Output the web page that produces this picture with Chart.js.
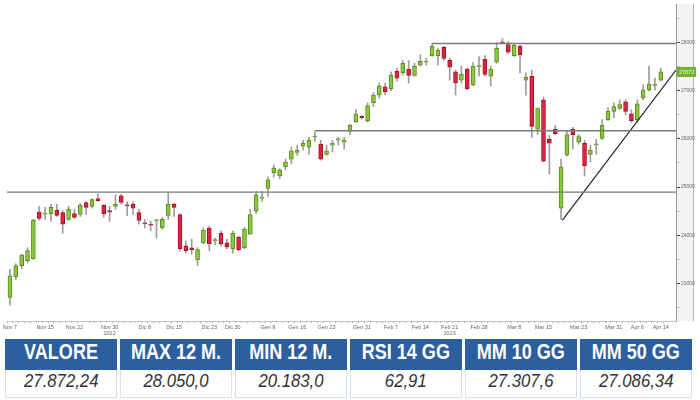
<!DOCTYPE html>
<html>
<head>
<meta charset="utf-8">
<script src="https://cdn.jsdelivr.net/npm/chart.js@4.4.1/dist/chart.umd.min.js"></script>
<style>
html, body { margin: 0; padding: 0; background: #fff; }
#wrap { position: relative; width: 700px; height: 336px; }
#tbl { display: flex; gap: 3px; margin: 3px 0 0 5px; width: 690px; }
.col { width: 112px; }
.hd { background: #2d5e9f; color: #fff; height: 31px; line-height: 31px; text-align: center; white-space: nowrap;
      font: bold 22px "Liberation Sans", Arial, sans-serif; }
.hd span { display: inline-block; transform: scaleX(0.82); }
.vl { height: 27px; line-height: 27px; text-align: center; color: #333; border: 1px solid #d6e1ec; border-top: none;
      white-space: nowrap; font: italic 19px "Liberation Sans", Arial, sans-serif; }
.vl span { display: inline-block; transform: scaleX(0.88); }
</style>
</head>
<body>
<div id="wrap"><canvas id="chart" width="700" height="336"></canvas></div>
<div id="tbl"></div>
<script>
// trading days shown on the x axis
var dates = [
  'Nov 7','Nov 8','Nov 9','Nov 10','Nov 11','Nov 14','Nov 15','Nov 16','Nov 17','Nov 18',
  'Nov 21','Nov 22','Nov 23','Nov 24','Nov 25','Nov 28','Nov 29','Nov 30',
  'Dic 1','Dic 2','Dic 5','Dic 6','Dic 7','Dic 8','Dic 9','Dic 12','Dic 13','Dic 14','Dic 15','Dic 16',
  'Dic 19','Dic 20','Dic 21','Dic 22','Dic 23','Dic 27','Dic 28','Dic 29','Dic 30',
  'Gen 2','Gen 3','Gen 4','Gen 5','Gen 6','Gen 9','Gen 10','Gen 11','Gen 12','Gen 13',
  'Gen 16','Gen 17','Gen 18','Gen 19','Gen 20','Gen 23','Gen 24','Gen 25','Gen 26','Gen 27','Gen 30','Gen 31',
  'Feb 1','Feb 2','Feb 3','Feb 6','Feb 7','Feb 8','Feb 9','Feb 10','Feb 13','Feb 14','Feb 15','Feb 16','Feb 17',
  'Feb 20','Feb 21','Feb 22','Feb 23','Feb 24','Feb 27','Feb 28',
  'Mar 1','Mar 2','Mar 3','Mar 6','Mar 7','Mar 8','Mar 9','Mar 10','Mar 13','Mar 14','Mar 15','Mar 16','Mar 17',
  'Mar 20','Mar 21','Mar 22','Mar 23','Mar 24','Mar 27','Mar 28','Mar 29','Mar 30','Mar 31',
  'Apr 3','Apr 4','Apr 5','Apr 6','Apr 11','Apr 12','Apr 13','Apr 14'
];
var opens = [
  22710,23140,23370,23470,23510,24480,24440,24450,24520,24470,24330,24450,24430,24680,24600,24760,24620,24510,
  24600,24820,24630,24640,24470,24260,24230,24300,24150,24410,24640,24430,23780,23740,23490,23840,24150,23890,24040,23840,23720,
  23960,23740,24020,24500,24770,24970,25300,25230,25420,25580,25720,25850,25830,26040,25890,25680,25870,25980,25930,26160,26360,26470,
  26380,26750,26910,27080,27040,27410,27370,27450,27320,27530,27590,27730,27730,27900,27630,27390,27220,27450,27120,27500,
  27650,27300,27590,28010,27960,27730,27920,27220,27300,26200,26810,25990,26200,24560,25660,26200,25930,25910,25680,25880,26010,26400,26570,
  26630,26770,26520,26400,26850,27020,27110,27220
];
var highs = [
  23290,23410,23610,23740,24330,24600,24580,24640,24640,24510,24600,24540,24660,24700,24760,24860,24640,24600,
  24840,24850,24700,24700,24540,24330,24290,24330,24370,24880,24660,24450,23880,23920,23740,24150,24190,23940,24090,23920,24090,
  23980,24170,24540,24910,24910,25210,25460,25380,25580,25830,25870,25970,26030,26140,25970,25870,25970,26030,26030,26300,26610,26490,
  26750,26960,27160,27160,27390,27470,27630,27630,27570,27750,27670,27980,27880,27920,27670,27430,27510,27470,27590,27710,
  27730,27510,28000,28080,28020,27980,27940,27370,27430,26650,26870,26070,26280,25580,26180,26240,26090,25970,25870,25990,26400,26650,26750,
  26810,26810,26610,26810,27120,27510,27260,27470
];
var lows = [
  22550,23080,23310,23430,23500,24310,24330,24290,24390,24040,24310,24350,24390,24430,24560,24700,24370,24290,
  24540,24640,24410,24430,24230,24150,24090,23940,24130,24330,24390,23680,23630,23610,23370,23820,23680,23800,23780,23720,23630,
  23670,23720,24020,24450,24700,24800,25210,25170,25360,25480,25660,25770,25680,25950,25560,25660,25730,25870,25790,26090,26340,26410,
  26340,26670,26850,26910,27000,27200,27320,27160,27300,27510,27530,27710,27530,27630,27220,26910,27160,27020,27100,27300,
  27300,27100,27570,27980,27770,27710,27370,26910,26030,26090,25520,25270,26090,24330,25640,25790,25890,25230,25520,25680,25990,26380,26440,
  26610,26500,26340,26340,26810,26990,27010,27200
];
var closes = [
  23160,23370,23590,23680,24310,24350,24460,24580,24410,24230,24540,24370,24620,24580,24740,24720,24450,24480,
  24640,24680,24610,24560,24310,24240,24210,24320,24330,24640,24580,23720,23680,23700,23700,24100,23820,23910,23820,23760,24040,
  23700,24130,24430,24840,24790,25150,25400,25360,25520,25750,25770,25910,25970,26060,25580,25750,25910,26000,25970,26280,26520,26440,
  26690,26910,27100,26980,27320,27260,27570,27320,27510,27610,27610,27920,27840,27670,27490,27160,27340,27040,27510,27520,
  27340,27450,27880,27990,27800,27940,27750,27280,26260,26630,25540,25910,26110,25420,26090,26090,26050,25440,25770,25900,26280,26570,26670,
  26710,26570,26380,26730,27020,27140,27130,27390
];

var tickLabels = ['Nov 7','Nov 15','Nov 22','Nov 30','Dic 8','Dic 15','Dic 23','Dic 30','Gen 9','Gen 16','Gen 23','Gen 31',
  'Feb 7','Feb 14','Feb 21','Feb 28','Mar 8','Mar 15','Mar 23','Mar 31','Apr 6','Apr 14'];
var yearUnder = ['Nov 30', 'Feb 21'];
var years = ['2022', '2023'];
var yTicks = [23000, 24000, 25000, 26000, 27000, 28000];

// support / resistance levels and the rising trend line
var levels = [27980, 26170, 24895];
var levelFrom = [72, 52, -0.5];
var trendFrom = [94.2, 24310];
var trendTo = [113.6, 27430];
var lastLabel = '27872';

var headers = ['VALORE', 'MAX 12 M.', 'MIN 12 M.', 'RSI 14 GG', 'MM 10 GG', 'MM 50 GG'];
var values = ['27.872,24', '28.050,0', '20.183,0', '62,91', '27.307,6', '27.086,34'];

var xMin = -0.5, xMax = 113.6;
var GREEN = '#8cc63f', GREEN_D = '#5b8c1e', RED = '#e2233f', RED_D = '#a3142b';

var up = closes.map(function(c, i) { return c >= opens[i]; });

var datasets = [
  {
    label: 'body',
    data: dates.map(function(d, i) { return { x: i, y: [opens[i], closes[i]] }; }),
    backgroundColor: up.map(function(u) { return u ? GREEN : RED; }),
    borderColor: up.map(function(u) { return u ? GREEN_D : RED_D; }),
    borderWidth: 1,
    borderSkipped: false,
    barThickness: 4,
    grouped: false,
    order: 1
  },
  {
    label: 'wick',
    data: dates.map(function(d, i) { return { x: i, y: [lows[i], highs[i]] }; }),
    backgroundColor: '#9c9c9c',
    barThickness: 1,
    grouped: false,
    order: 2
  }
];
levels.forEach(function(v, k) {
  datasets.push({
    type: 'line', label: 'level' + k,
    data: [{ x: levelFrom[k], y: v }, { x: xMax, y: v }],
    borderColor: '#7a7a7a', borderWidth: 1.4, pointRadius: 0, order: 0
  });
});
datasets.push({
  type: 'line', label: 'trend',
  data: [{ x: trendFrom[0], y: trendFrom[1] }, { x: trendTo[0], y: trendTo[1] }],
  borderColor: '#222', borderWidth: 1.2, pointRadius: 0, order: 0
});

var axisDecor = {
  id: 'axisDecor',
  beforeDraw: function(chart) {
    var ctx = chart.ctx, a = chart.chartArea;
    ctx.save();
    ctx.fillStyle = '#f3f3f3';
    ctx.fillRect(a.right, a.top, 17, a.bottom - a.top);
    ctx.strokeStyle = '#b5b5b5';
    ctx.lineWidth = 1;
    ctx.beginPath();
    ctx.moveTo(a.right + 17.5, a.top);
    ctx.lineTo(a.right + 17.5, a.bottom);
    ctx.stroke();
    ctx.restore();
  },
  afterDraw: function(chart) {
    var ctx = chart.ctx, a = chart.chartArea, y = chart.scales.y;
    var py = y.getPixelForValue(closes[closes.length - 1]);
    ctx.save();
    ctx.fillStyle = '#74b22a';
    ctx.fillRect(a.right + 1, py - 5, 19, 10);
    ctx.fillStyle = '#f4fbe9';
    ctx.font = '5.5px "Liberation Sans", sans-serif';
    ctx.textBaseline = 'middle';
    ctx.fillText(lastLabel, a.right + 3, py + 0.5);
    ctx.restore();
  }
};

new Chart(document.getElementById('chart').getContext('2d'), {
  type: 'bar',
  data: { datasets: datasets },
  plugins: [axisDecor],
  options: {
    responsive: false,
    animation: false,
    devicePixelRatio: 1,
    layout: { padding: { left: 7, right: 0, top: 0, bottom: 0 } },
    plugins: { legend: { display: false }, tooltip: { enabled: false } },
    scales: {
      x: {
        type: 'linear', min: xMin, max: xMax, offset: false,
        afterBuildTicks: function(s) { s.ticks = dates.map(function(d, i) { return { value: i }; }); },
        afterFit: function(s) { s.height = 15; },
        ticks: {
          autoSkip: false, maxRotation: 0, padding: 1, color: '#666',
          font: { size: 5.5, family: '"Liberation Sans", sans-serif' },
          callback: function(v) {
            var d = dates[v];
            if (tickLabels.indexOf(d) < 0) return '';
            var k = yearUnder.indexOf(d);
            return k >= 0 ? [d, years[k]] : d;
          }
        },
        grid: { drawOnChartArea: false, tickLength: 2, color: '#b0b0b0' },
        border: { display: true, color: '#c4c4c4' }
      },
      y: {
        position: 'right', min: 22220, max: 28800,
        afterBuildTicks: function(s) {
          var t = [];
          yTicks.forEach(function(v) { t.push({ value: v - 500 }); t.push({ value: v }); });
          t.push({ value: yTicks[yTicks.length - 1] + 500 });
          s.ticks = t;
        },
        afterFit: function(s) { s.width = 24; },
        ticks: {
          padding: 1, color: '#666',
          font: { size: 5, family: '"Liberation Sans", sans-serif' },
          callback: function(v) { return yTicks.indexOf(v) >= 0 ? String(v) : ''; }
        },
        grid: {
          drawOnChartArea: false, tickLength: 4,
          color: function(c) { return yTicks.indexOf(c.tick.value) >= 0 ? '#444' : '#c8c8c8'; }
        },
        border: { display: true, color: '#9a9a9a' }
      }
    }
  }
});

var tbl = document.getElementById('tbl');
headers.forEach(function(h, i) {
  var col = document.createElement('div');
  col.className = 'col';
  col.innerHTML = '<div class="hd"><span>' + h + '</span></div><div class="vl"><span>' + values[i] + '</span></div>';
  tbl.appendChild(col);
});
</script>
</body>
</html>
